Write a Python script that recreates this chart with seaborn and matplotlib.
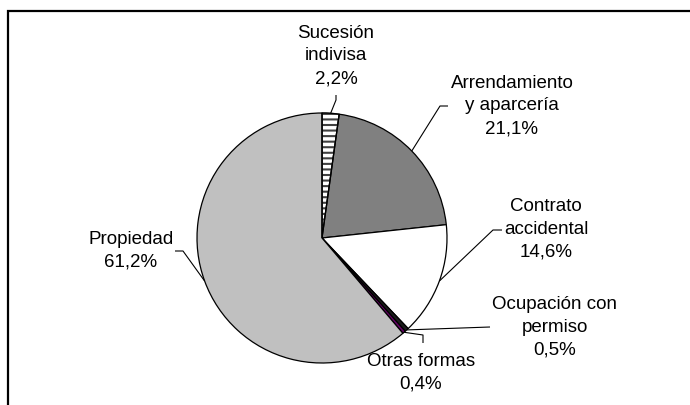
import matplotlib
matplotlib.use("Agg")
import numpy as np
import matplotlib.pyplot as plt
import matplotlib.patches as mpatches
import seaborn as sns

# ---------- DATA ----------
categories = [
    "Sucesión\nindivisa",
    "Arrendamiento\ny aparcería",
    "Contrato\naccidental",
    "Ocupación con\npermiso",
    "Otras formas",
    "Propiedad",
]
shares = [2.2, 21.1, 14.6, 0.5, 0.4, 61.2]

# ---------- STYLE / LAYOUT ----------
colors = ["#ffffff", "#808080", "#ffffff", "#1c1c1c", "#660066", "#c0c0c0"]
W, H = 690, 405
CENTER = (322, 238)   # pixel coords, y down
RADIUS = 125

# label centre, elbow of leader, end of leader (pixel coords, y down)
label_layout = [
    ((336, 56), (336, 100), (336, 95)),
    ((512, 106), (440, 106), (448, 106)),
    ((546, 229), (493, 230), (502, 230)),
    ((555, 327), (490, 327), (490, 327)),
    ((421, 373), (423, 335), (423, 343)),
    ((131, 251), (183, 251), (175, 251)),
]

sns.set_theme(style="white")
plt.rcParams["font.family"] = ["Liberation Sans", "DejaVu Sans"]
plt.rcParams["hatch.linewidth"] = 1.5


def fy(y):
    """Flip pixel y (down) to data y (up)."""
    return H - y


def fmt_pct(v):
    return f"{v:.1f}%".replace(".", ",")


fig = plt.figure(figsize=(W / 100, H / 100), dpi=100)
ax = fig.add_axes([0, 0, 1, 1])

wedges, _ = ax.pie(
    shares,
    colors=colors,
    startangle=90,
    counterclock=False,
    center=(CENTER[0], fy(CENTER[1])),
    radius=RADIUS,
    wedgeprops=dict(edgecolor="black", linewidth=0.9),
)
ax.set_xlim(0, W)
ax.set_ylim(0, H)
ax.set_aspect("equal")
ax.axis("off")

# horizontal stripes for "Sucesión indivisa"
w0 = wedges[0]
w0.set_hatch("---")
w0.set_edgecolor("#404040")
ax.add_patch(mpatches.Wedge(w0.center, w0.r, w0.theta1, w0.theta2,
                            fill=False, edgecolor="black", linewidth=0.9))

# labels with leader lines
for wedge, name, val, (txt, elbow, end) in zip(wedges, categories, shares, label_layout):
    mid = np.deg2rad((wedge.theta1 + wedge.theta2) / 2)
    ex = wedge.center[0] + wedge.r * np.cos(mid)
    ey = wedge.center[1] + wedge.r * np.sin(mid)
    ax.plot([ex, elbow[0], end[0]], [ey, fy(elbow[1]), fy(end[1])],
            color="black", linewidth=0.8, solid_capstyle="butt")
    ax.text(txt[0], fy(txt[1]), f"{name}\n{fmt_pct(val)}",
            ha="center", va="center", fontsize=13.5, linespacing=1.45,
            color="black")

# chart frame (only top and left edges fall inside the picture)
ax.add_patch(mpatches.Rectangle((7.5, -10), 720, fy(10.5) + 10,
                                fill=False, edgecolor="black", linewidth=1.6,
                                clip_on=False))

fig.savefig("out.png", dpi=100)
